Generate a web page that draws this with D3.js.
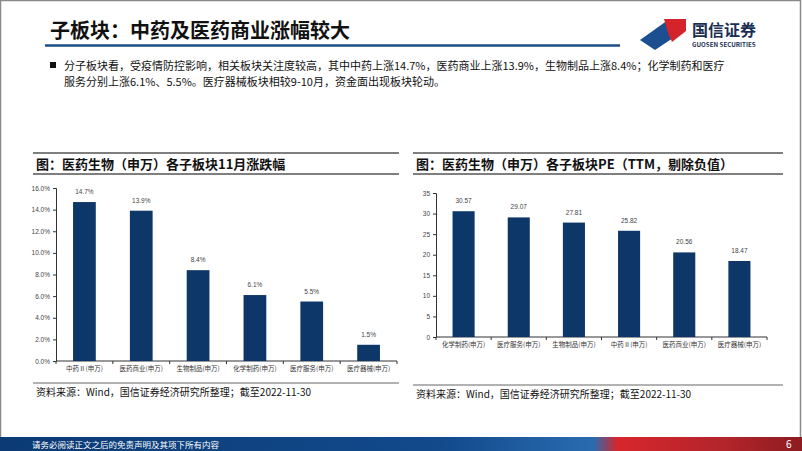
<!DOCTYPE html>
<html>
<head>
<meta charset="utf-8">
<script src="https://cdn.jsdelivr.net/npm/d3@7"></script>
<style>
  html, body { margin: 0; padding: 0; background: #fff; }
  svg { display: block; font-family: "Noto Sans CJK SC", "Noto Sans", sans-serif; }
</style>
</head>
<body>
<svg id="page" width="802" height="451"></svg>
<script>
// left chart: Nov change by sub-sector
const chgCategories = ['中药Ⅱ(申万)', '医药商业(申万)', '生物制品(申万)', '化学制药(申万)', '医疗服务(申万)', '医疗器械(申万)'];
const chgValues = [14.7, 13.9, 8.4, 6.1, 5.5, 1.5];
const chgTicks = [0, 2, 4, 6, 8, 10, 12, 14, 16];

// right chart: PE (TTM)
const peCategories = ['化学制药(申万)', '医疗服务(申万)', '生物制品(申万)', '中药Ⅱ(申万)', '医药商业(申万)', '医疗器械(申万)'];
const peValues = [30.57, 29.07, 27.81, 25.82, 20.56, 18.47];
const peTicks = [0, 5, 10, 15, 20, 25, 30, 35];

const BAR = '#0c3768';
const svg = d3.select('#page');

// page frame
svg.append('rect').attr('x', 0.5).attr('y', 0.5).attr('width', 800).attr('height', 450)
    .attr('fill', 'none').attr('stroke', '#8a8a8a').attr('stroke-width', 1.5);

// footer band
const defs = svg.append('defs');
const fg = defs.append('linearGradient').attr('id', 'foot');
[['0%', '#0b3a74'], ['55%', '#124a8c'], ['74%', '#2a6bb0'], ['77%', '#d7262c'], ['90%', '#b3252b'], ['100%', '#8c1c22']]
    .forEach(s => fg.append('stop').attr('offset', s[0]).attr('stop-color', s[1]));
svg.append('rect').attr('x', 0).attr('y', 437).attr('width', 802).attr('height', 14).attr('fill', 'url(#foot)');
svg.append('text').attr('x', 32).attr('y', 447.5).attr('fill', '#fff').attr('font-size', 8.5)
    .text('请务必阅读正文之后的免责声明及其项下所有内容');
svg.append('text').attr('x', 786).attr('y', 448).attr('fill', '#fff').attr('font-size', 10)
    .text('6');

// header
svg.append('text').attr('x', 50).attr('y', 38).attr('font-size', 20).attr('font-weight', 'bold')
    .attr('fill', '#111').text('子板块：中药及医药商业涨幅较大');
svg.append('line').attr('x1', 45).attr('x2', 620).attr('y1', 45.5).attr('y2', 45.5)
    .attr('stroke', '#1d4e86').attr('stroke-width', 2.5);

// logo
const logo = svg.append('g');
logo.append('path').attr('d', 'M640,40 L668,20 L676,36 L655,50 Z').attr('fill', '#1b4f8f');
logo.append('path').attr('d', 'M664,19 L686,19 L686,31 L672,42 L668,33 Z').attr('fill', '#d4232b');
logo.append('text').attr('x', 692).attr('y', 36).attr('font-size', 16).attr('font-weight', 'bold')
    .attr('fill', '#1b2f55').text('国信证券');
logo.append('text').attr('x', 692).attr('y', 47).attr('font-size', 6.2).attr('font-weight', 'bold')
    .attr('fill', '#1b2f55').text('GUOSEN SECURITIES');

// bullet text
svg.append('rect').attr('x', 50).attr('y', 62).attr('width', 6).attr('height', 6).attr('fill', '#111');
svg.append('text').attr('x', 64).attr('y', 70).attr('font-size', 11).attr('fill', '#111')
    .text('分子板块看，受疫情防控影响，相关板块关注度较高，其中中药上涨14.7%，医药商业上涨13.9%，生物制品上涨8.4%；化学制药和医疗');
svg.append('text').attr('x', 64).attr('y', 86).attr('font-size', 11).attr('fill', '#111')
    .text('服务分别上涨6.1%、5.5%。医疗器械板块相较9-10月，资金面出现板块轮动。');

function panel(cfg) {
    const g = svg.append('g');
    // title box
    g.append('line').attr('x1', cfg.bx0).attr('x2', cfg.bx1).attr('y1', 153).attr('y2', 153)
        .attr('stroke', '#555').attr('stroke-width', 1.5);
    g.append('line').attr('x1', cfg.bx0).attr('x2', cfg.bx1).attr('y1', 174).attr('y2', 174)
        .attr('stroke', '#555').attr('stroke-width', 1.5);
    g.append('text').attr('x', cfg.bx0 + 3).attr('y', 169).attr('font-size', 13).attr('font-weight', 'bold')
        .attr('fill', '#111').text(cfg.title);

    const x = d3.scaleBand().domain(cfg.categories).range([cfg.x0, cfg.x1]).paddingInner(0.6).paddingOuter(0.3);
    const y = d3.scaleLinear().domain(cfg.domain).range([cfg.y0, cfg.y1]);

    const yAxis = d3.axisLeft(y).tickValues(cfg.ticks).tickSize(3).tickFormat(cfg.tickFmt);
    const ya = g.append('g').attr('transform', `translate(${cfg.x0},0)`).call(yAxis);
    ya.select('.domain').attr('stroke', '#333');
    ya.selectAll('.tick line').attr('stroke', '#333');
    ya.selectAll('text').attr('font-size', 6.5).attr('fill', '#444').attr('font-family', 'Liberation Sans, Arial, sans-serif');

    // x axis with boundary ticks
    g.append('line').attr('x1', cfg.x0).attr('x2', cfg.x1).attr('y1', cfg.y0).attr('y2', cfg.y0)
        .attr('stroke', '#333');
    const step = x.step();
    const bounds = d3.range(cfg.categories.length + 1).map(i => cfg.x0 + (cfg.x1 - cfg.x0) * i / cfg.categories.length);
    g.selectAll('.xt').data(bounds).enter().append('line')
        .attr('x1', d => d).attr('x2', d => d).attr('y1', cfg.y0).attr('y2', cfg.y0 + 3).attr('stroke', '#333');
    g.selectAll('.xl').data(cfg.categories).enter().append('text')
        .attr('x', d => x(d) + x.bandwidth() / 2).attr('y', cfg.y0 + 10)
        .attr('text-anchor', 'middle').attr('font-size', 6.5).attr('fill', '#333').text(d => d);

    g.selectAll('.bar').data(cfg.values).enter().append('rect')
        .attr('x', (d, i) => x(cfg.categories[i])).attr('width', x.bandwidth())
        .attr('y', d => y(d)).attr('height', d => cfg.y0 - y(d)).attr('fill', BAR);
    g.selectAll('.vl').data(cfg.values).enter().append('text')
        .attr('x', (d, i) => x(cfg.categories[i]) + x.bandwidth() / 2).attr('y', d => y(d) - 8)
        .attr('text-anchor', 'middle').attr('font-size', 6.5).attr('fill', '#444')
        .attr('font-family', 'Liberation Sans, Arial, sans-serif').text(cfg.valFmt);

    // source
    g.append('line').attr('x1', cfg.bx0).attr('x2', cfg.bx1).attr('y1', cfg.srcLine).attr('y2', cfg.srcLine)
        .attr('stroke', '#666').attr('stroke-width', 1.2);
    g.append('text').attr('x', cfg.bx0 + 3).attr('y', cfg.srcLine + 13).attr('font-size', 10)
        .attr('fill', '#111').text('资料来源：Wind，国信证券经济研究所整理；截至2022-11-30');
}

panel({
    title: '图：医药生物（申万）各子板块11月涨跌幅',
    categories: chgCategories, values: chgValues, ticks: chgTicks,
    domain: [0, 16], tickFmt: d => d.toFixed(1) + '%', valFmt: d => d.toFixed(1) + '%',
    bx0: 33, bx1: 399, x0: 56, x1: 397, y0: 361, y1: 188, srcLine: 383
});

panel({
    title: '图：医药生物（申万）各子板块PE（TTM，剔除负值）',
    categories: peCategories, values: peValues, ticks: peTicks,
    domain: [0, 35], tickFmt: d => d, valFmt: d => d.toFixed(2),
    bx0: 413, bx1: 783, x0: 436, x1: 767, y0: 337, y1: 193, srcLine: 385
});
</script>
</body>
</html>
